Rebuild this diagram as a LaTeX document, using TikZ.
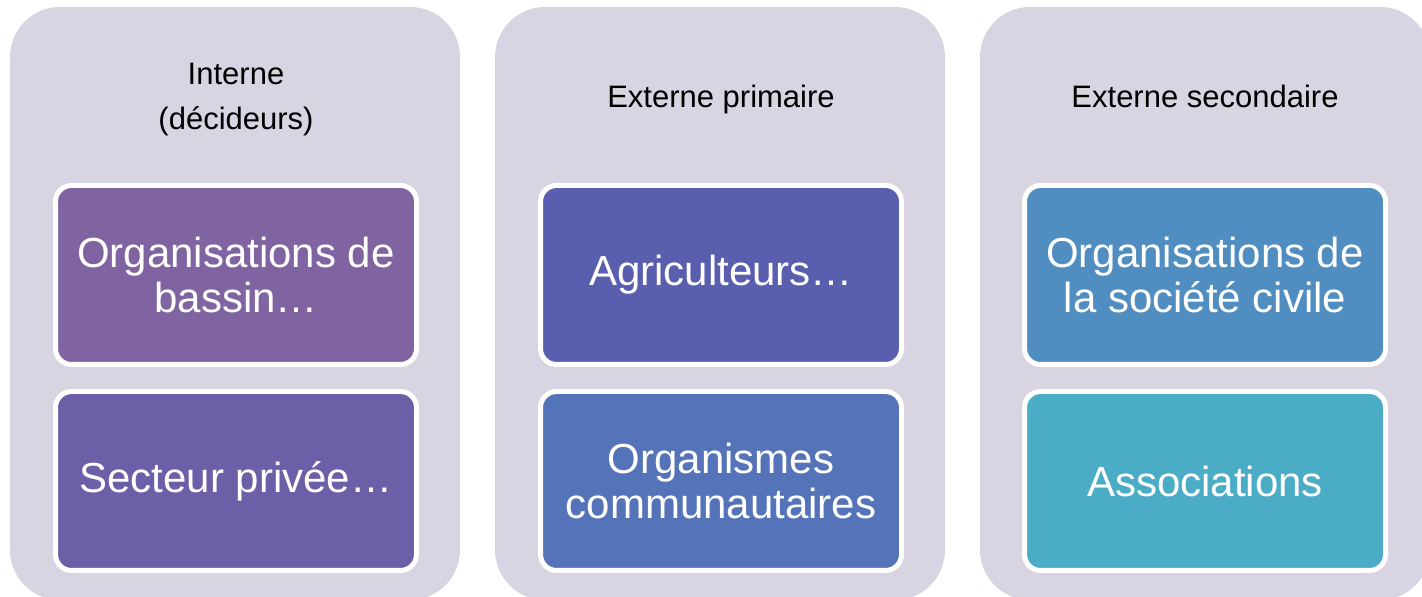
\documentclass[tikz,border=0pt]{standalone}
\usepackage{fontspec}
\setmainfont{Liberation Sans}
\definecolor{panelbg}{RGB}{216,212,226}
\definecolor{violetA}{RGB}{128,100,162}
\definecolor{violetB}{RGB}{109,95,167}
\definecolor{indigoA}{RGB}{90,94,175}
\definecolor{indigoB}{RGB}{84,115,184}
\definecolor{blueA}{RGB}{80,141,192}
\definecolor{blueB}{RGB}{75,172,198}
\begin{document}
\begin{tikzpicture}[x=0.5pt,y=0.5pt,
        panel/.style={fill=panelbg,rounded corners=25pt},
        title/.style={align=center,text depth=3.3pt,font=\fontsize{15.5}{22.5}\selectfont},
        card/.style={draw=white,line width=2.5pt,rounded corners=8pt,
            minimum width=180.5pt,minimum height=89.5pt,align=center,
            text=white,font=\fontsize{21}{22.5}\selectfont}]
        \def\T{497.5}   %title height
        \def\U{322}     %upper card height
        \def\D{116}     %lower card height
        \useasboundingbox (0,0) rectangle (1422,597);
        % three panels
        \fill[panel] (10,-3) rectangle (460,590);
        \fill[panel] (495,-3) rectangle (945,590);
        \fill[panel] (980,-3) rectangle (1430,590);
        % internal
        \node[title] (interne) at (236,\T) {Interne\\(décideurs)};
        \node[card,fill=violetA] (bassin) at (236,\U) {Organisations de\\bassin…};
        \node[card,fill=violetB] (prive) at (236,\D) {Secteur privée…};
        % external, primary
        \node[title] (primaire) at (721,\T) {Externe primaire};
        \node[card,fill=indigoA] (agri) at (721,\U) {Agriculteurs…};
        \node[card,fill=indigoB] (commu) at (721,\D) {Organismes\\communautaires};
        % external, secondary
        \node[title] (secondaire) at (1205,\T) {Externe secondaire};
        \node[card,fill=blueA] (civile) at (1205,\U) {Organisations de\\la société civile};
        \node[card,fill=blueB] (assoc) at (1205,\D) {Associations};
    \end{tikzpicture}
\end{document}
